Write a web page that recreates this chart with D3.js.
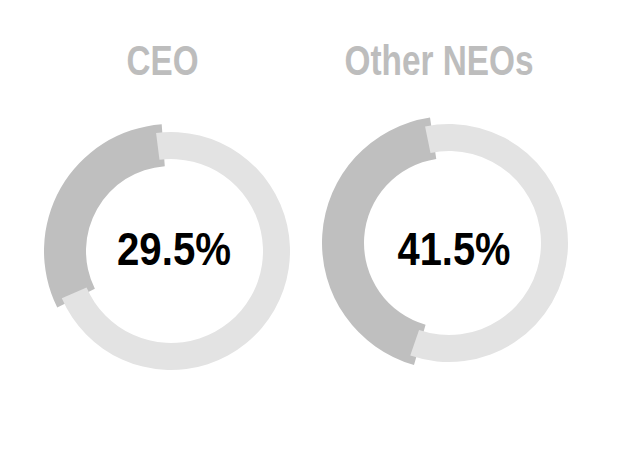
<!DOCTYPE html>
<html>
<head>
<meta charset="utf-8">
<script src="https://cdn.jsdelivr.net/npm/d3@7"></script>
<style>
  html, body { margin: 0; padding: 0; background: #ffffff; }
  svg { display: block; }
</style>
</head>
<body>
<svg id="chart" width="619" height="467"></svg>
<script>
// ---- data ----
const groups = ["CEO", "Other NEOs"];
const shareValues = [29.5, 41.5];          // highlighted (dark) share, %
const centreLabels = ["29.5%", "41.5%"];

// ---- layout / style ----
const W = 619, H = 467;
const centres = [[171, 251], [449, 243]];
const startDeg = [-7.2, -11.6];             // where the light segment begins
const titleX = [162.5, 439];
const titleW = [72, 189];
const labelX = [174, 454];
const labelW = [114, 113];
const darkColor = "#bfbfbf", lightColor = "#e3e3e3", titleColor = "#bdbdbd";
const rLightOuter = 119, rLightInner = 92, rDarkOuter = 127, rDarkInner = 85;
const extend = 3 * Math.PI / 180;

const svg = d3.select("#chart");
svg.append("rect").attr("width", W).attr("height", H).attr("fill", "#fff");

const lightArc = d3.arc().innerRadius(rLightInner).outerRadius(rLightOuter);
const darkArc = d3.arc().innerRadius(rDarkInner).outerRadius(rDarkOuter);

groups.forEach((g, i) => {
  const s = startDeg[i] * Math.PI / 180;
  const pie = d3.pie().sort(null).value(d => d.v)
    .startAngle(s).endAngle(s + 2 * Math.PI);
  const slices = pie([{k: "rest", v: 100 - shareValues[i]}, {k: "share", v: shareValues[i]}]);
  const gg = svg.append("g").attr("transform", `translate(${centres[i][0]},${centres[i][1]})`);

  const dark = slices[1];
  gg.append("path")
    .attr("d", darkArc({startAngle: dark.startAngle - extend, endAngle: dark.endAngle + extend}))
    .attr("fill", darkColor);
  const light = slices[0];
  gg.append("path")
    .attr("d", lightArc(light))
    .attr("fill", lightColor);

  gg.append("text")
    .attr("x", labelX[i] - centres[i][0])
    .attr("y", 265 - centres[i][1])
    .attr("text-anchor", "middle")
    .attr("font-family", "'Liberation Sans', Arial, sans-serif")
    .attr("font-weight", "bold")
    .attr("font-size", 47)
    .attr("textLength", labelW[i])
    .attr("lengthAdjust", "spacingAndGlyphs")
    .attr("fill", "#000")
    .text(centreLabels[i]);

  svg.append("text")
    .attr("x", titleX[i])
    .attr("y", 75)
    .attr("text-anchor", "middle")
    .attr("font-family", "'Liberation Sans', Arial, sans-serif")
    .attr("font-weight", "bold")
    .attr("font-size", 42)
    .attr("textLength", titleW[i])
    .attr("lengthAdjust", "spacingAndGlyphs")
    .attr("fill", titleColor)
    .text(g);
});
</script>
</body>
</html>
